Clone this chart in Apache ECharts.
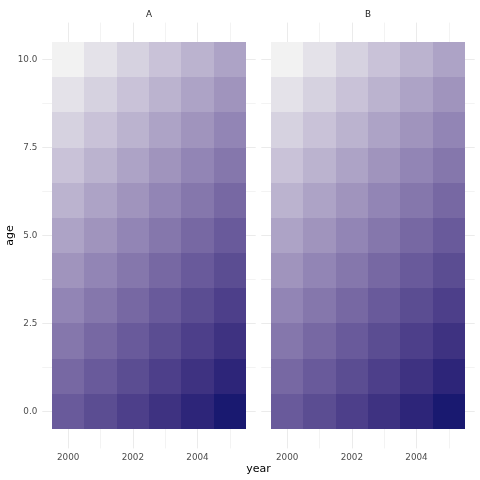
<!DOCTYPE html>
<html>
<head>
<meta charset="utf-8">
<script src="https://cdn.jsdelivr.net/npm/echarts@6/dist/echarts.min.js"></script>
<style>
  html, body { margin: 0; padding: 0; background: #fff; }
  #chart { width: 480px; height: 480px; }
</style>
</head>
<body>
<div id="chart"></div>
<script>
// data
const years = [2000, 2001, 2002, 2003, 2004, 2005];
const ages = [10, 9, 8, 7, 6, 5, 4, 3, 2, 1, 0]; // row order of the value tables
const facets = ['A', 'B'];

// fill level per tile, rows follow `ages`, columns follow `years`
const valuesA = [
  [0, 1, 2, 3, 4, 5],
  [1, 2, 3, 4, 5, 6],
  [2, 3, 4, 5, 6, 7],
  [3, 4, 5, 6, 7, 8],
  [4, 5, 6, 7, 8, 9],
  [5, 6, 7, 8, 9, 10],
  [6, 7, 8, 9, 10, 11],
  [7, 8, 9, 10, 11, 12],
  [8, 9, 10, 11, 12, 13],
  [9, 10, 11, 12, 13, 14],
  [10, 11, 12, 13, 14, 15]
];
const valuesB = [
  [0, 1, 2, 3, 4, 5],
  [1, 2, 3, 4, 5, 6],
  [2, 3, 4, 5, 6, 7],
  [3, 4, 5, 6, 7, 8],
  [4, 5, 6, 7, 8, 9],
  [5, 6, 7, 8, 9, 10],
  [6, 7, 8, 9, 10, 11],
  [7, 8, 9, 10, 11, 12],
  [8, 9, 10, 11, 12, 13],
  [9, 10, 11, 12, 13, 14],
  [10, 11, 12, 13, 14, 15]
];

const xTickLabels = [2000, 2002, 2004];
const xGridValues = [2000, 2001, 2002, 2003, 2004, 2005];
const yTickLabels = [0, 2.5, 5, 7.5, 10];
const yGridValues = [0, 1.25, 2.5, 3.75, 5, 6.25, 7.5, 8.75, 10];

// ggplot-like gradient, interpolated in Lab
function hexToRgb(h) {
  return [1, 3, 5].map(i => parseInt(h.substr(i, 2), 16));
}
function rgbToLab(rgb) {
  const lin = rgb.map(v => { v /= 255; return v <= 0.04045 ? v / 12.92 : Math.pow((v + 0.055) / 1.055, 2.4); });
  let x = (lin[0] * 0.4124 + lin[1] * 0.3576 + lin[2] * 0.1805) / 0.95047;
  let y = (lin[0] * 0.2126 + lin[1] * 0.7152 + lin[2] * 0.0722);
  let z = (lin[0] * 0.0193 + lin[1] * 0.1192 + lin[2] * 0.9505) / 1.08883;
  const f = t => t > 0.008856 ? Math.cbrt(t) : 7.787 * t + 16 / 116;
  x = f(x); y = f(y); z = f(z);
  return [116 * y - 16, 500 * (x - y), 200 * (y - z)];
}
function labToHex(lab) {
  let y = (lab[0] + 16) / 116, x = lab[1] / 500 + y, z = y - lab[2] / 200;
  const fi = t => t * t * t > 0.008856 ? t * t * t : (t - 16 / 116) / 7.787;
  x = fi(x) * 0.95047; y = fi(y); z = fi(z) * 1.08883;
  const r = x * 3.2406 + y * -1.5372 + z * -0.4986;
  const g = x * -0.9689 + y * 1.8758 + z * 0.0415;
  const b = x * 0.0557 + y * -0.2040 + z * 1.0570;
  return '#' + [r, g, b].map(v => {
    v = v <= 0.0031308 ? 12.92 * v : 1.055 * Math.pow(v, 1 / 2.4) - 0.055;
    v = Math.max(0, Math.min(255, Math.round(v * 255)));
    return v.toString(16).padStart(2, '0');
  }).join('');
}
function labStops(lo, hi, n) {
  const a = rgbToLab(hexToRgb(lo)), b = rgbToLab(hexToRgb(hi));
  const out = [];
  for (let i = 0; i < n; i++) {
    const t = i / (n - 1);
    out.push(labToHex([0, 1, 2].map(k => a[k] + (b[k] - a[k]) * t)));
  }
  return out;
}

function toTiles(values) {
  const out = [];
  ages.forEach((age, r) => {
    years.forEach((yr, c) => out.push([yr, age, values[r][c]]));
  });
  return out;
}

function renderTile(params, api) {
  const p0 = api.coord([api.value(0) - 0.5, api.value(1) + 0.5]);
  const p1 = api.coord([api.value(0) + 0.5, api.value(1) - 0.5]);
  const x0 = Math.round(p0[0]), y0 = Math.round(p0[1]);
  const x1 = Math.round(p1[0]), y1 = Math.round(p1[1]);
  return {
    type: 'rect',
    shape: { x: x0, y: y0, width: x1 - x0, height: y1 - y0 },
    style: { fill: api.visual('color') }
  };
}

const font = 'DejaVu Sans';
const gridColors = ['#ebebeb', '#f3f3f3'];

function xAxisFor(i) {
  return {
    type: 'value', gridIndex: i, min: 1999.2, max: 2005.8,
    axisLine: { show: false },
    axisTick: { show: false, customValues: xGridValues },
    axisLabel: {
      customValues: xTickLabels, margin: 4.5,
      formatter: v => String(v),
      color: '#4d4d4d', fontFamily: font, fontSize: 8.8
    },
    splitLine: { show: true, lineStyle: { color: gridColors, width: 1 } }
  };
}
function yAxisFor(i) {
  return {
    type: 'value', gridIndex: i, min: -1.05, max: 11.05,
    axisLine: { show: false },
    axisTick: { show: false, customValues: yGridValues },
    axisLabel: {
      show: i === 0, customValues: yTickLabels, margin: 5,
      formatter: v => v.toFixed(1),
      color: '#4d4d4d', fontFamily: font, fontSize: 8.8
    },
    splitLine: { show: true, lineStyle: { color: gridColors, width: 1 } }
  };
}

const chart = echarts.init(document.getElementById('chart'));
chart.setOption({
  backgroundColor: '#fff',
  animation: false,
  grid: [
    { left: 42.3, top: 22.6, width: 213.4, height: 425.8 },
    { left: 261.3, top: 22.6, width: 213.4, height: 425.8 }
  ],
  xAxis: [xAxisFor(0), xAxisFor(1)],
  yAxis: [yAxisFor(0), yAxisFor(1)],
  visualMap: {
    type: 'continuous', show: false, dimension: 2, min: 0, max: 15,
    seriesIndex: [0, 1],
    inRange: { color: labStops('#f2f2f2', '#191970', 16) }
  },
  series: [
    { type: 'custom', name: facets[0], xAxisIndex: 0, yAxisIndex: 0, renderItem: renderTile, data: toTiles(valuesA) },
    { type: 'custom', name: facets[1], xAxisIndex: 1, yAxisIndex: 1, renderItem: renderTile, data: toTiles(valuesB) }
  ],
  graphic: [
    { type: 'text', x: 149, y: 14.5, style: { text: facets[0], align: 'center', verticalAlign: 'middle', fill: '#1a1a1a', font: '8.8px "DejaVu Sans"' } },
    { type: 'text', x: 368, y: 14.5, style: { text: facets[1], align: 'center', verticalAlign: 'middle', fill: '#1a1a1a', font: '8.8px "DejaVu Sans"' } },
    { type: 'text', x: 258.5, y: 469, style: { text: 'year', align: 'center', verticalAlign: 'middle', fill: '#000', font: '11px "DejaVu Sans"' } },
    { type: 'text', x: 10, y: 235.5, rotation: Math.PI / 2, style: { text: 'age', align: 'center', verticalAlign: 'middle', fill: '#000', font: '11px "DejaVu Sans"' } }
  ]
});
</script>
</body>
</html>
